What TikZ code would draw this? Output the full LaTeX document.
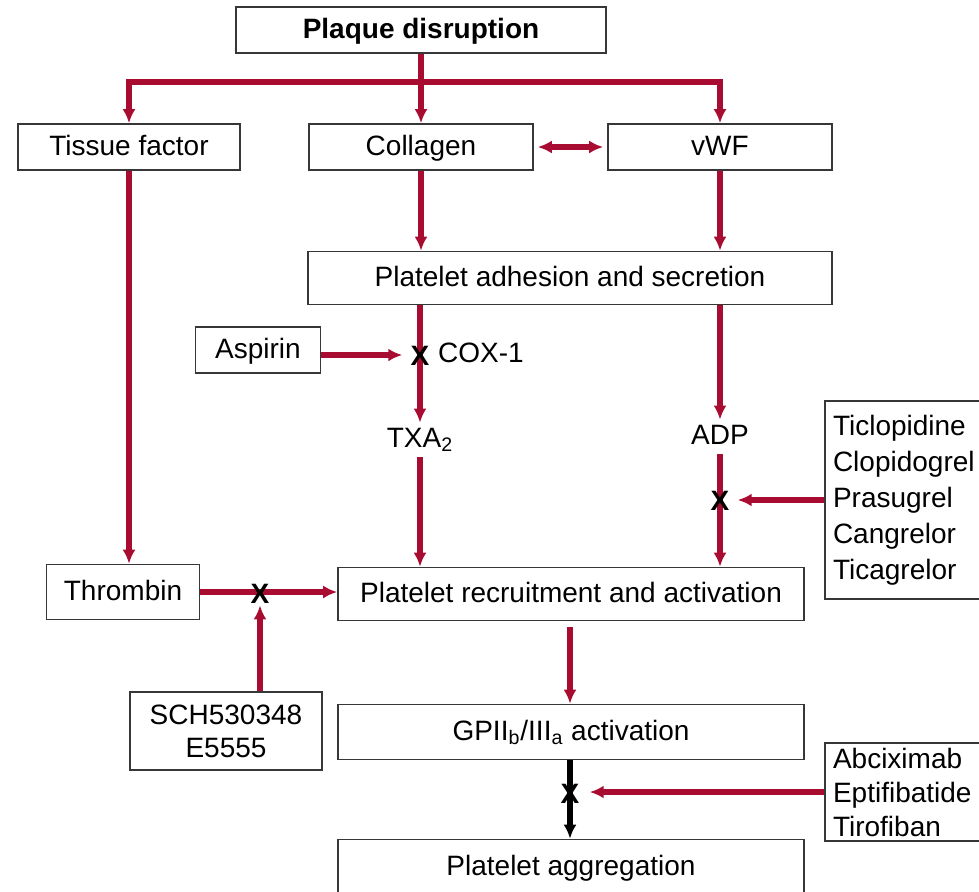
\documentclass[tikz,border=0pt]{standalone}
\usepackage{fontspec}
\setmainfont{Liberation Sans}
\usetikzlibrary{arrows.meta,positioning,backgrounds}
\definecolor{bloodred}{RGB}{168,12,48}
\definecolor{boxgray}{RGB}{55,55,55}

\begin{document}
\begin{tikzpicture}[x=0.5pt, y=-0.5pt,
    box/.style={rectangle, draw=boxgray, line width=0.8pt, fill=white, minimum height=23pt, inner sep=2pt, text height=10pt, text depth=1.5pt, font=\fontsize{14}{17}\selectfont, align=center},
    multibox/.style={box, text height=, text depth=},
    drugbox/.style={multibox, align=left, text width=74pt, inner xsep=4pt, font=\fontsize{14}{18}\selectfont},
    mediator/.style={font=\fontsize{14}{17}\selectfont, inner sep=2pt, text height=10pt, text depth=3pt},
    xmark/.style={font=\fontsize{14}{17}\selectfont\bfseries, inner sep=1pt, text height=10pt, text depth=0pt},
    arrow/.style={-{Latex[length=7pt,width=6.5pt]}, line width=2.6pt, bloodred},
    darrow/.style={{Latex[length=7pt,width=6.5pt]}-{Latex[length=7pt,width=6.5pt]}, line width=2.6pt, bloodred},
    line/.style={line width=2.6pt, bloodred}
]
\clip (0,0) rectangle (979,891);

% Top level
\node[box, minimum width=185pt, font=\fontsize{14}{17}\selectfont\bfseries] (plaque) at (421,30) {Plaque disruption};
\node[box, minimum width=111pt] (tissue) at (129,147) {Tissue factor};
\node[box, minimum width=112pt] (collagen) at (421,147) {Collagen};
\node[box, minimum width=112pt] (vwf) at (720,147) {vWF};

% Platelet steps
\node[box, minimum width=262pt, minimum height=26.5pt] (adhesion) at (570,278) {Platelet adhesion and secretion};
\node[box, minimum width=233pt, minimum height=26.5pt] (recruit) at (571,594) {Platelet recruitment and activation};
\node[box, minimum width=233pt, minimum height=27.5pt] (gp) at (571,732) {GPII\textsubscript{b}/III\textsubscript{a} activation};
\node[box, minimum width=233pt, minimum height=27.5pt] (agg) at (571,867) {Platelet aggregation};
\node[box, minimum width=76.5pt, minimum height=27.5pt] (thrombin) at (123,592) {Thrombin};

% Mediators
\node[mediator] (txa) at (420,440) {TXA\textsubscript{2}};
\node[mediator] (adp) at (720,437) {ADP};

% Drugs
\node[box, minimum width=62.5pt] (aspirin) at (258,350) {Aspirin};
\node[multibox, minimum width=96pt, minimum height=39pt, font=\fontsize{14}{16.5}\selectfont] (sch) at (226,731) {SCH530348\\E5555};
\node[drugbox, minimum height=99pt] (ticlo) at (907,500) {Ticlopidine\\Clopidogrel\\Prasugrel\\Cangrelor\\Ticagrelor};
\node[drugbox, minimum height=49pt, font=\fontsize{14}{17}\selectfont] (abc) at (907,792) {Abciximab\\Eptifibatide\\Tirofiban};

% Blocks
\node[xmark] (xcox) at (420,355) {X};
\node[mediator, right=1pt of xcox] (cox) {COX-1};
\node[xmark] (xadp) at (720,500) {X};
\node[xmark] (xthr) at (260,593) {X};
\node[xmark] (xgp) at (570,793) {X};

% Connections
\begin{scope}[on background layer]
\coordinate (split) at (421,82);
\draw[line] (plaque.south) -- (split);
\draw[arrow] (split) -| (tissue.north);
\draw[arrow] (split) -- (collagen.north);
\draw[arrow] (split) -| (vwf.north);
\draw[darrow, shorten <=2pt, shorten >=2pt] (collagen.east) -- (vwf.west);
\draw[arrow] (collagen.south) -- (collagen.south |- adhesion.north);
\draw[arrow] (vwf.south) -- (vwf.south |- adhesion.north);
\draw[arrow] (tissue.south) -- (tissue.south |- thrombin.north);
\draw[arrow] (adhesion.south -| txa.north) -- (txa.north);
\draw[arrow] (txa.south) -- (txa.south |- recruit.north);
\draw[arrow] (adhesion.south -| adp.north) -- (adp.north);
\draw[arrow] (adp.south) -- (adp.south |- recruit.north);
\draw[arrow, shorten >=3pt] (aspirin.east |- xcox) -- (xcox.west);
\draw[arrow, shorten >=3pt] (ticlo.west) -- (ticlo.west -| xadp.east);
\draw[arrow] (thrombin.east) -- (thrombin.east -| recruit.west);
\draw[arrow] (sch.north -| xthr) -- (xthr.south);
\draw[arrow, shorten <=3pt] (recruit.south -| xgp) -- (gp.north -| xgp);
\draw[arrow, black] (gp.south -| xgp) -- (agg.north -| xgp);
\draw[arrow, shorten >=4pt] (abc.west) -- (abc.west -| xgp.east);
\end{scope}

\end{tikzpicture}
\end{document}
